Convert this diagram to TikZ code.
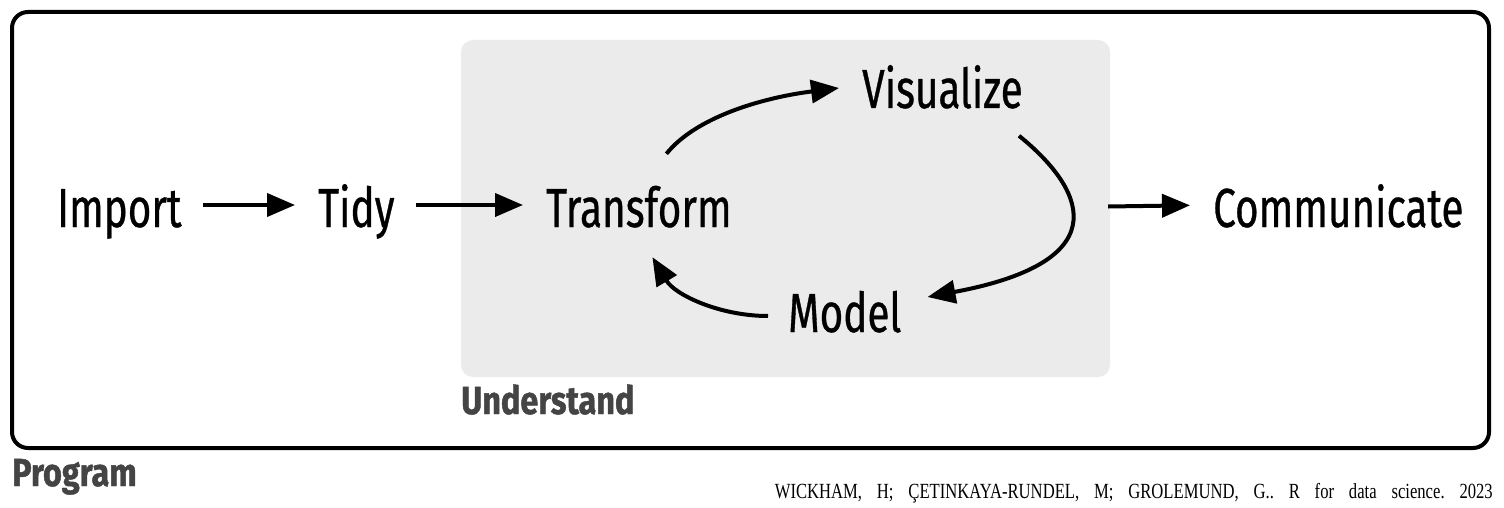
\documentclass[tikz,border=0pt]{standalone}
\usepackage{fontspec}
\setmainfont{Fira Sans}[FakeStretch=0.735, FakeBold=0.6]
\newfontfamily\hdfont{Fira Sans}[FakeStretch=0.83, FakeBold=1.2]
\newfontfamily\citefont{Liberation Serif}[FakeStretch=0.77]
\usetikzlibrary{arrows.meta,calc}
\definecolor{boxgray}{HTML}{EBEBEB}
\definecolor{labgray}{HTML}{444444}
\tikzset{
  stage/.style={anchor=base west, inner sep=0pt, text height=44pt, text depth=0pt,
    font=\fontsize{55}{60}\selectfont},
  grouplabel/.style={anchor=base west, inner sep=0pt, text=labgray,
    font=\hdfont\bfseries\fontsize{39}{44}\selectfont},
  arr/.style={line width=4pt, -{Triangle[length=28pt,width=23pt]}},
}
\begin{document}
\begin{tikzpicture}[x=1pt,y=-1pt]
\useasboundingbox (0,0) rectangle (1504,508);
% outer program box
\draw[line width=4pt, rounded corners=16pt] (12,12) rectangle (1489,448);
% understand box
\node[fill=boxgray, rounded corners=12pt, minimum width=649pt, minimum height=337pt,
      inner sep=0pt] (understand) at (785.5,208.5) {};
\node[grouplabel] (understandlab) at (461,414) {Understand};
\node[grouplabel] (programlab) at (12,486) {Program};
% stages
\node[stage] (import) at (57,227) {Import};
\node[stage] (tidy) at (318,227) {Tidy};
\node[stage] (transform) at (546,227) {Transform};
\node[stage] (visualize) at (862,108) {Visualize};
\node[stage] (model) at (788,332) {Model};
\node[stage] (communicate) at (1213,227) {Communicate};
% arrows
\draw[arr, shorten <=21pt, shorten >=23pt] (import.east) -- (tidy.west);
\draw[arr, shorten <=21pt, shorten >=23pt] (tidy.east) -- (transform.west);
\draw[arr, shorten >=23pt] ([shift={(-2,-2)}]understand.east) -- (communicate.west);
\draw[arr] ([shift={(27.5,-29)}]transform.north)
   .. controls (695,118) and (760,98) .. ([shift={(-23,2)}]visualize.west);
\draw[arr] ([shift={(157,72)}]visualize.north west)
   .. controls (1080,185) and (1125,260) .. ([shift={(26,-13)}]model.east);
\draw[arr] ([shift={(-20,6)}]model.west)
   .. controls (720,316) and (675,295) .. ([shift={(13.5,30)}]transform.south);
% citation
\node[anchor=base east, inner sep=0pt, font=\citefont\fontsize{21.6}{24}\selectfont] (cite)
  at (1493,498) {\frenchspacing\makebox[718pt][s]{WICKHAM, H; ÇETINKAYA-RUNDEL, M; GROLEMUND, G.. R for data science. 2023}};
\end{tikzpicture}
\end{document}
